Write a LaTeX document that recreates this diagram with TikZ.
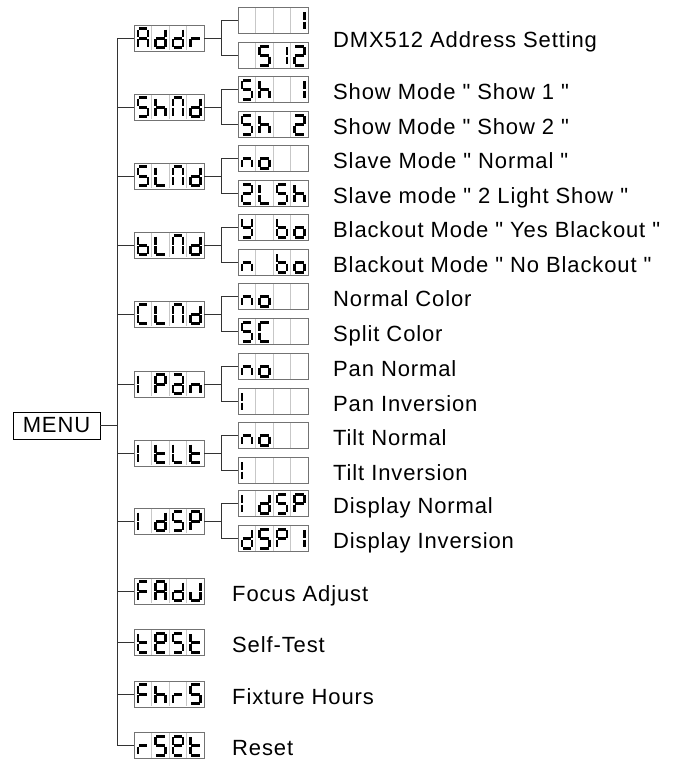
\documentclass[tikz,border=0pt]{standalone}
\usepackage{fontspec}
\setmainfont{Liberation Sans}[Ligatures=TeXOff]
\usetikzlibrary{calc,positioning}

% seven segment pieces of one cell (17.5 x 26)
\makeatletter
\def\segdef#1#2{\expandafter\def\csname seg@#1\endcsname{#2}}
\segdef{}{}
\segdef{a}{(4.8,3.8)--(13.2,3.8)}
\segdef{b}{(14,4.6)--(14,12.5)}
\segdef{c}{(14,14.1)--(14,21.9)}
\segdef{d}{(4.8,22.7)--(13.2,22.7)}
\segdef{e}{(4,14.1)--(4,21.9)}
\segdef{f}{(4,4.6)--(4,12.5)}
\segdef{g}{(4.8,13.3)--(13.2,13.3)}
% characters
\def\lcddef#1#2{\expandafter\def\csname lcd@#1\endcsname{#2}}
\lcddef{-}{}
\lcddef{A}{a,b,c,e,f,g}
\lcddef{d}{b,c,d,e,g}
\lcddef{r}{e,g}
\lcddef{1}{b,c}
\lcddef{I}{e,f}
\lcddef{S}{a,f,g,c,d}
\lcddef{h}{f,e,g,c}
\lcddef{N}{a,b,c,e,f}
\lcddef{2}{a,b,g,e,d}
\lcddef{L}{f,e,d}
\lcddef{n}{e,g,c}
\lcddef{o}{c,d,e,g}
\lcddef{y}{f,b,g,c,d}
\lcddef{b}{f,e,d,c,g}
\lcddef{C}{a,f,e,d}
\lcddef{P}{a,b,f,e,g}
\lcddef{a}{a,b,c,d,e,g}
\lcddef{t}{f,e,d,g}
\lcddef{F}{a,f,e,g}
\lcddef{J}{b,c,d,e}
\lcddef{e}{a,b,f,g,e,d}
\makeatother

\tikzset{
  lcdbox/.style={draw=black!55,line width=0.8pt,minimum width=70pt,minimum height=26pt,inner sep=0pt,outer sep=0pt},
  lcdgrid/.style={draw=black!22,line width=0.8pt},
  lcdseg/.style={line width=2.9pt,black},
  link/.style={draw=black!80,line width=0.8pt},
  txt/.style={font=\fontsize{22}{26}\selectfont\addfontfeature{LetterSpace=4}},
  lbl/.style={txt,anchor=base west,inner sep=0pt}
}

% display box: name, centre, four characters
\newcommand\lcd[3]{%
  \node[lcdbox] (#1) at (#2) {};
  \foreach \ch [count=\i] in {#3}{
    \begin{scope}[shift={($(#1.north west)+({(\i-1)*17.5},0)$)}]
      \ifnum\i>1 \draw[lcdgrid] (0,0.6) -- (0,25.4);\fi
      \expandafter\let\expandafter\seglist\csname lcd@\ch\endcsname
      \foreach \s in \seglist {\draw[lcdseg] \csname seg@\s\endcsname;}
    \end{scope}
  }
}
% parent to its two children
\newcommand\fork[3]{\draw[link] (#1.east) -- ++(17,0) coordinate (#1k) |- (#2.west) (#1k) |- (#3.west);}

\begin{document}
\begin{tikzpicture}[x=1pt,y=-1pt]
\useasboundingbox (0,0) rectangle (673,759);
\coordinate (spine) at (117,0);

\node[draw,txt,line width=0.8pt,minimum width=87pt,minimum height=27pt,inner sep=0pt] (menu) at (56.5,425.5) {MENU};

% first level
\lcd{addr}{169,38}{A,d,d,r}
\lcd{shnd}{169,107}{S,h,N,d}
\lcd{slnd}{169,176}{S,L,N,d}
\lcd{blnd}{169,245}{b,L,N,d}
\lcd{clnd}{169,314}{C,L,N,d}
\lcd{ipan}{169,384}{I,P,a,n}
\lcd{itlt}{169,453}{I,t,L,t}
\lcd{idsp}{169,521}{I,d,S,P}
\lcd{fadj}{169,591}{F,A,d,J}
\lcd{test}{169,642.5}{t,e,S,t}
\lcd{fhrs}{169,694}{F,h,r,S}
\lcd{rset}{169,745.5}{r,S,e,t}

% second level
\lcd{addrA}{273,20.5}{-,-,-,1}
\lcd{addrB}{273,55.5}{-,S,1,2}
\lcd{shndA}{273,89.5}{S,h,-,1}
\lcd{shndB}{273,124.5}{S,h,-,2}
\lcd{slndA}{273,158.5}{n,o,-,-}
\lcd{slndB}{273,193.5}{2,L,S,h}
\lcd{blndA}{273,227.5}{y,-,b,o}
\lcd{blndB}{273,262.5}{n,-,b,o}
\lcd{clndA}{273,296.5}{n,o,-,-}
\lcd{clndB}{273,331.5}{S,C,-,-}
\lcd{ipanA}{273,366.5}{n,o,-,-}
\lcd{ipanB}{273,401.5}{I,-,-,-}
\lcd{itltA}{273,435.5}{n,o,-,-}
\lcd{itltB}{273,470.5}{I,-,-,-}
\lcd{idspA}{273,503.5}{I,d,S,P}
\lcd{idspB}{273,538.5}{d,S,P,1}

% connectors
\draw[link] (addr.west) -| (spine |- rset.west) -- (rset.west);
\foreach \n in {shnd,slnd,blnd,clnd,ipan,itlt,idsp,fadj,test,fhrs}
  \draw[link] (\n.west) -- (\n.west -| spine);
\draw[link] (menu.east) -- (menu.east -| spine);
\foreach \n in {addr,shnd,slnd,blnd,clnd,ipan,itlt,idsp}
  {\fork{\n}{\n A}{\n B}}

% texts
\node[lbl] (addrT) at (333,48) {DMX512 Address Setting};
\node[lbl] (shndAT) at (333,99.5) {Show Mode " Show 1 "};
\node[lbl] (shndBT) at (333,134.5) {Show Mode " Show 2 "};
\node[lbl] (slndAT) at (333,168.5) {Slave Mode " Normal "};
\node[lbl] (slndBT) at (333,203.5) {Slave mode " 2 Light Show "};
\node[lbl] (blndAT) at (333,237.5) {Blackout Mode " Yes Blackout "};
\node[lbl] (blndBT) at (333,272.5) {Blackout Mode " No Blackout "};
\node[lbl] (clndAT) at (333,306.5) {Normal Color};
\node[lbl] (clndBT) at (333,341.5) {Split Color};
\node[lbl] (ipanAT) at (333,376.5) {Pan Normal};
\node[lbl] (ipanBT) at (333,411.5) {Pan Inversion};
\node[lbl] (itltAT) at (333,445.5) {Tilt Normal};
\node[lbl] (itltBT) at (333,480.5) {Tilt Inversion};
\node[lbl] (idspAT) at (333,513.5) {Display Normal};
\node[lbl] (idspBT) at (333,548.5) {Display Inversion};
\node[lbl] (fadjT) at (232,601) {Focus Adjust};
\node[lbl] (testT) at (232,652.5) {Self-Test};
\node[lbl] (fhrsT) at (232,704) {Fixture Hours};
\node[lbl] (rsetT) at (232,755.5) {Reset};
\end{tikzpicture}
\end{document}
